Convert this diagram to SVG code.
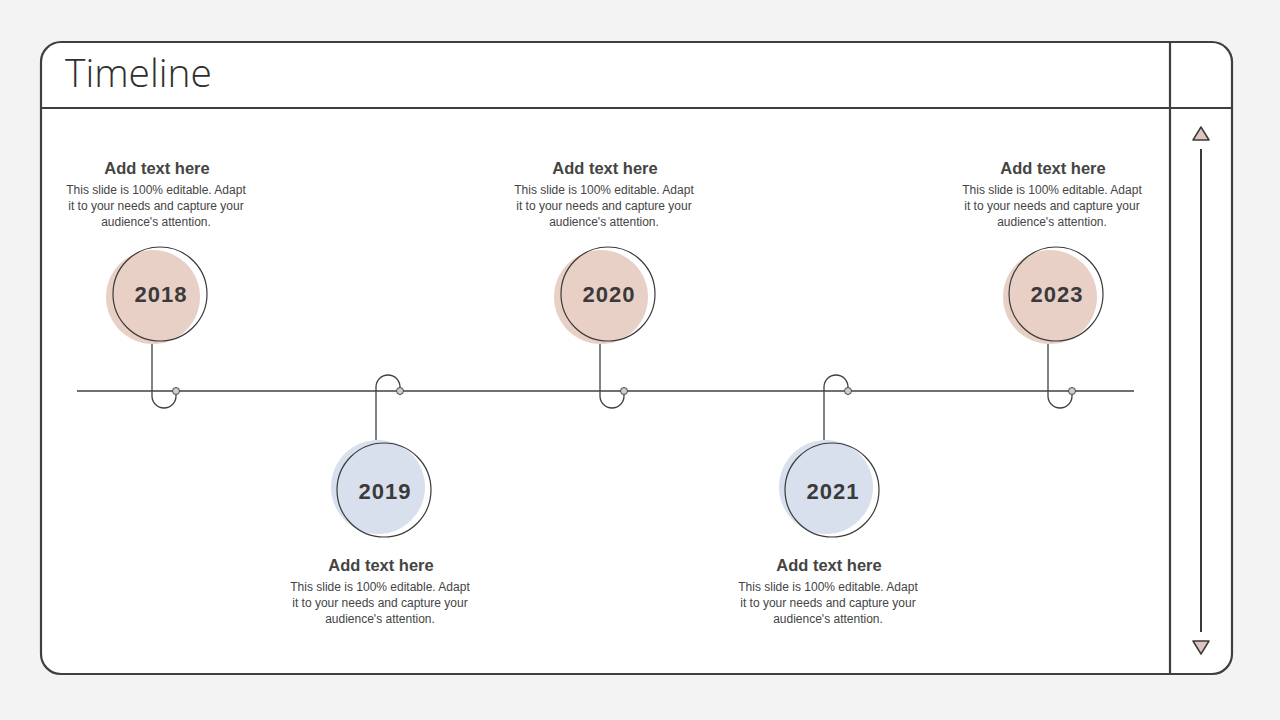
<svg xmlns="http://www.w3.org/2000/svg" width="1280" height="720" viewBox="0 0 1280 720">
<style>
.frame{fill:none;stroke:#3f3f3f;stroke-width:2.2}
.ol{fill:none;stroke:#3a3a3a;stroke-width:1.2}
.pink{fill:#e8d0c7}
.blue{fill:#d9e0ed}
.stem{fill:none;stroke:#3f3f3f;stroke-width:1.3}
.dot{fill:#c6cbd7;stroke:#4a4a4a;stroke-width:1}
.yr{font-family:"Liberation Sans",Arial,sans-serif;font-weight:bold;font-size:22px;fill:#3a3a3a;text-anchor:middle;letter-spacing:1px}
.hd{font-family:"Liberation Sans",Arial,sans-serif;font-weight:bold;font-size:16.5px;fill:#444;text-anchor:middle}
.bd{font-family:"Liberation Sans",Arial,sans-serif;font-size:12px;fill:#444;text-anchor:middle}
.tri{fill:#dcc6be;stroke:#3a3a3a;stroke-width:1.5;stroke-linejoin:round}
</style>
<rect x="0" y="0" width="1280" height="720" fill="#f3f3f3"/>
<g id="frame">
<rect x="41" y="42" width="1191" height="632" rx="20" fill="#ffffff" stroke="#3f3f3f" stroke-width="2.2"/>
<line x1="1170" y1="42" x2="1170" y2="674" class="frame"/>
<line x1="41" y1="108" x2="1232" y2="108" class="frame"/>
<text x="65" y="87" font-family="Open Sans,Liberation Sans,sans-serif" font-weight="300" font-size="38" fill="#2f2f2f" textLength="147" lengthAdjust="spacingAndGlyphs">Timeline</text>
</g>
<g id="scroll">
<polygon points="1193,140 1209,140 1201,127" class="tri"/>
<line x1="1201" y1="149" x2="1201" y2="632" stroke="#3a3a3a" stroke-width="2"/>
<polygon points="1193,641 1209,641 1201,654" class="tri"/>
</g>
<g id="connectors">
<line x1="77" y1="391" x2="1134" y2="391" stroke="#404040" stroke-width="1.3"/>
<path class="stem" d="M152,344 V396 A12,12 0 0 0 176,396 V391"/>
<path class="stem" d="M376,440 V387 A12,12 0 0 1 400,387 V391"/>
<path class="stem" d="M600,344 V396 A12,12 0 0 0 624,396 V391"/>
<path class="stem" d="M824,440 V387 A12,12 0 0 1 848,387 V391"/>
<path class="stem" d="M1048,344 V396 A12,12 0 0 0 1072,396 V391"/>
<circle class="dot" cx="176" cy="391" r="3.5"/>
<circle class="dot" cx="400" cy="391" r="3.5"/>
<circle class="dot" cx="624" cy="391" r="3.5"/>
<circle class="dot" cx="848" cy="391" r="3.5"/>
<circle class="dot" cx="1072" cy="391" r="3.5"/>
</g>
<g id="n2018">
<circle class="pink" cx="153" cy="297" r="47"/>
<circle class="ol" cx="160" cy="294" r="47"/>
<text class="yr" x="161" y="302">2018</text>
<text class="hd" x="157" y="174">Add text here</text>
<text class="bd" x="156" y="194">This slide is 100% editable. Adapt</text>
<text class="bd" x="156" y="210">it to your needs and capture your</text>
<text class="bd" x="156" y="226">audience's attention.</text>
</g>
<g id="n2019">
<circle class="blue" cx="378" cy="487" r="47"/>
<circle class="ol" cx="384" cy="490" r="47"/>
<text class="yr" x="385" y="499">2019</text>
<text class="hd" x="381" y="571">Add text here</text>
<text class="bd" x="380" y="591">This slide is 100% editable. Adapt</text>
<text class="bd" x="380" y="607">it to your needs and capture your</text>
<text class="bd" x="380" y="623">audience's attention.</text>
</g>
<g id="n2020">
<circle class="pink" cx="601" cy="297" r="47"/>
<circle class="ol" cx="608" cy="294" r="47"/>
<text class="yr" x="609" y="302">2020</text>
<text class="hd" x="605" y="174">Add text here</text>
<text class="bd" x="604" y="194">This slide is 100% editable. Adapt</text>
<text class="bd" x="604" y="210">it to your needs and capture your</text>
<text class="bd" x="604" y="226">audience's attention.</text>
</g>
<g id="n2021">
<circle class="blue" cx="826" cy="487" r="47"/>
<circle class="ol" cx="832" cy="490" r="47"/>
<text class="yr" x="833" y="499">2021</text>
<text class="hd" x="829" y="571">Add text here</text>
<text class="bd" x="828" y="591">This slide is 100% editable. Adapt</text>
<text class="bd" x="828" y="607">it to your needs and capture your</text>
<text class="bd" x="828" y="623">audience's attention.</text>
</g>
<g id="n2023">
<circle class="pink" cx="1050" cy="297" r="47"/>
<circle class="ol" cx="1056" cy="294" r="47"/>
<text class="yr" x="1057" y="302">2023</text>
<text class="hd" x="1053" y="174">Add text here</text>
<text class="bd" x="1052" y="194">This slide is 100% editable. Adapt</text>
<text class="bd" x="1052" y="210">it to your needs and capture your</text>
<text class="bd" x="1052" y="226">audience's attention.</text>
</g>
</svg>
